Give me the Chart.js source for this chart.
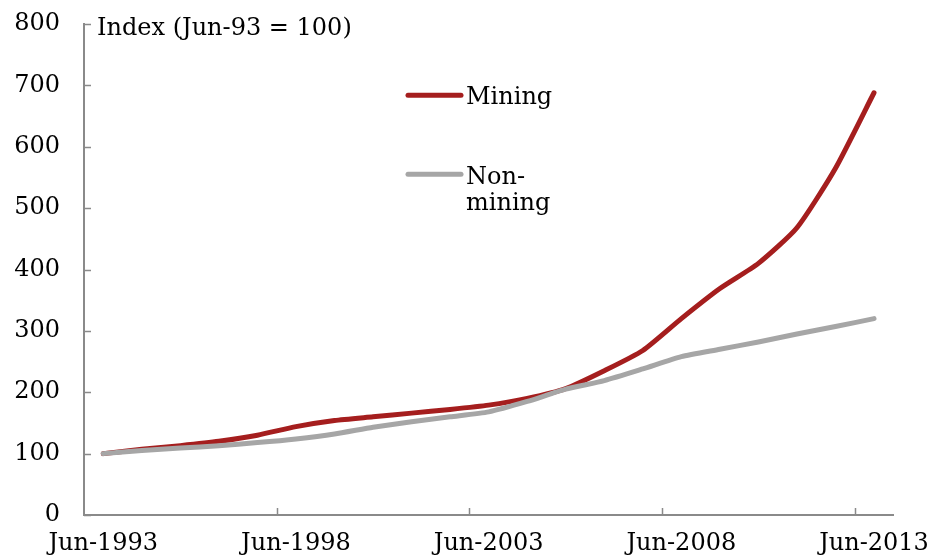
<!DOCTYPE html>
<html>
<head>
<meta charset="utf-8">
<script src="https://cdn.jsdelivr.net/npm/chart.js@4/dist/chart.umd.min.js"></script>
<style>
  html, body { margin: 0; padding: 0; background: #fff; }
  #wrap { width: 944px; height: 560px; position: relative; }
</style>
</head>
<body>
<div id="wrap"><canvas id="c" width="944" height="560"></canvas></div>
<script>
// Annual index values, June 1993 = 100
const years = ['1993','1994','1995','1996','1997','1998','1999','2000','2001','2002',
               '2003','2004','2005','2006','2007','2008','2009','2010','2011','2012','2013'];
const labels = years.map(y => 'Jun-' + y);
const mining    = [100,107,113,120,130,144,154,160,166,172,179,190,206,235,268,320,369,410,468,565,688];
const nonMining = [100,105,109,113,118,124,132,143,152,160,168,185,205,219,238,258,270,282,295,307,320];
const yTicks = [0,100,200,300,400,500,600,700,800];
const axisTitle = 'Index (Jun-93 = 100)';
const legendItems = [
  { lines: ['Mining'], color: '#A51E1E' },
  { lines: ['Non-', 'mining'], color: '#A6A6A6' }
];

const FONT = '"DejaVu Serif", "Liberation Serif", serif';
const FONT_SIZE = 24;
const AXIS = '#8A8A8A';

// Inward tick marks, axis caption and the in-plot legend
const decorations = {
  id: 'decorations',
  afterDraw(chart) {
    const ctx = chart.ctx;
    const x = chart.scales.x, y = chart.scales.y;
    const area = chart.chartArea;
    ctx.save();
    ctx.strokeStyle = AXIS;
    ctx.lineWidth = 1.5;
    // y ticks point into the plot
    yTicks.forEach(v => {
      const py = Math.round(y.getPixelForValue(v)) + 0.5;
      ctx.beginPath();
      ctx.moveTo(area.left, py);
      ctx.lineTo(area.left + 7, py);
      ctx.stroke();
    });
    // x ticks sit on category boundaries every five years
    const half = (x.getPixelForValue(1) - x.getPixelForValue(0)) / 2;
    labels.forEach((l, i) => {
      if (i === 0 || i % 5 !== 0) return;
      const px = Math.round(x.getPixelForValue(i) - half) + 0.5;
      ctx.beginPath();
      ctx.moveTo(px, area.bottom);
      ctx.lineTo(px, area.bottom - 7);
      ctx.stroke();
    });
    // caption beside the top of the value axis
    ctx.fillStyle = '#000';
    ctx.font = FONT_SIZE + 'px ' + FONT;
    ctx.textAlign = 'left';
    ctx.textBaseline = 'alphabetic';
    ctx.fillText(axisTitle, area.left + 13, y.getPixelForValue(800) + 11);
    // legend
    const lx = area.left + 322;
    const tops = [y.getPixelForValue(684), y.getPixelForValue(555)];
    legendItems.forEach((item, k) => {
      const ly = tops[k];
      ctx.strokeStyle = item.color;
      ctx.lineWidth = 5;
      ctx.lineCap = 'round';
      ctx.beginPath();
      ctx.moveTo(lx + 2, ly);
      ctx.lineTo(lx + 55, ly);
      ctx.stroke();
      ctx.fillStyle = '#000';
      ctx.textBaseline = 'middle';
      item.lines.forEach((t, j) => {
        ctx.fillText(t, lx + 60, ly + 3 + j * 26);
      });
    });
    ctx.restore();
  }
};

new Chart(document.getElementById('c'), {
  type: 'line',
  data: {
    labels: labels,
    datasets: [
      { label: 'Non-mining', data: nonMining, borderColor: '#A6A6A6', borderWidth: 5,
        pointRadius: 0, tension: 0.2, borderCapStyle: 'round', borderJoinStyle: 'round', order: 1 },
      { label: 'Mining', data: mining, borderColor: '#A51E1E', borderWidth: 5,
        pointRadius: 0, tension: 0.2, borderCapStyle: 'round', borderJoinStyle: 'round', order: 2 }
    ]
  },
  options: {
    responsive: false,
    animation: false,
    layout: { padding: { top: 24, right: 47, left: 0, bottom: 0 } },
    plugins: { legend: { display: false }, tooltip: { enabled: false } },
    scales: {
      x: {
        type: 'category',
        offset: true,
        grid: { display: true, drawOnChartArea: false, drawTicks: false, offset: true },
        border: { display: true, color: AXIS, width: 2 },
        ticks: {
          autoSkip: false, maxRotation: 0, padding: 14,
          color: '#000', font: { family: FONT, size: FONT_SIZE },
          callback: (v, i) => (i % 5 === 0 ? labels[i] : '')
        },
        afterFit: s => { s.height = 45; }
      },
      y: {
        min: 0, max: 800,
        afterBuildTicks: s => { s.ticks = yTicks.map(v => ({ value: v })); },
        grid: { display: true, drawOnChartArea: false, drawTicks: false },
        border: { display: true, color: AXIS, width: 2 },
        ticks: { padding: 24, color: '#000', font: { family: FONT, size: FONT_SIZE } },
        afterFit: s => { s.width = 84; s.paddingTop = 0; s.paddingBottom = 0; }
      }
    }
  },
  plugins: [decorations]
});
</script>
</body>
</html>
